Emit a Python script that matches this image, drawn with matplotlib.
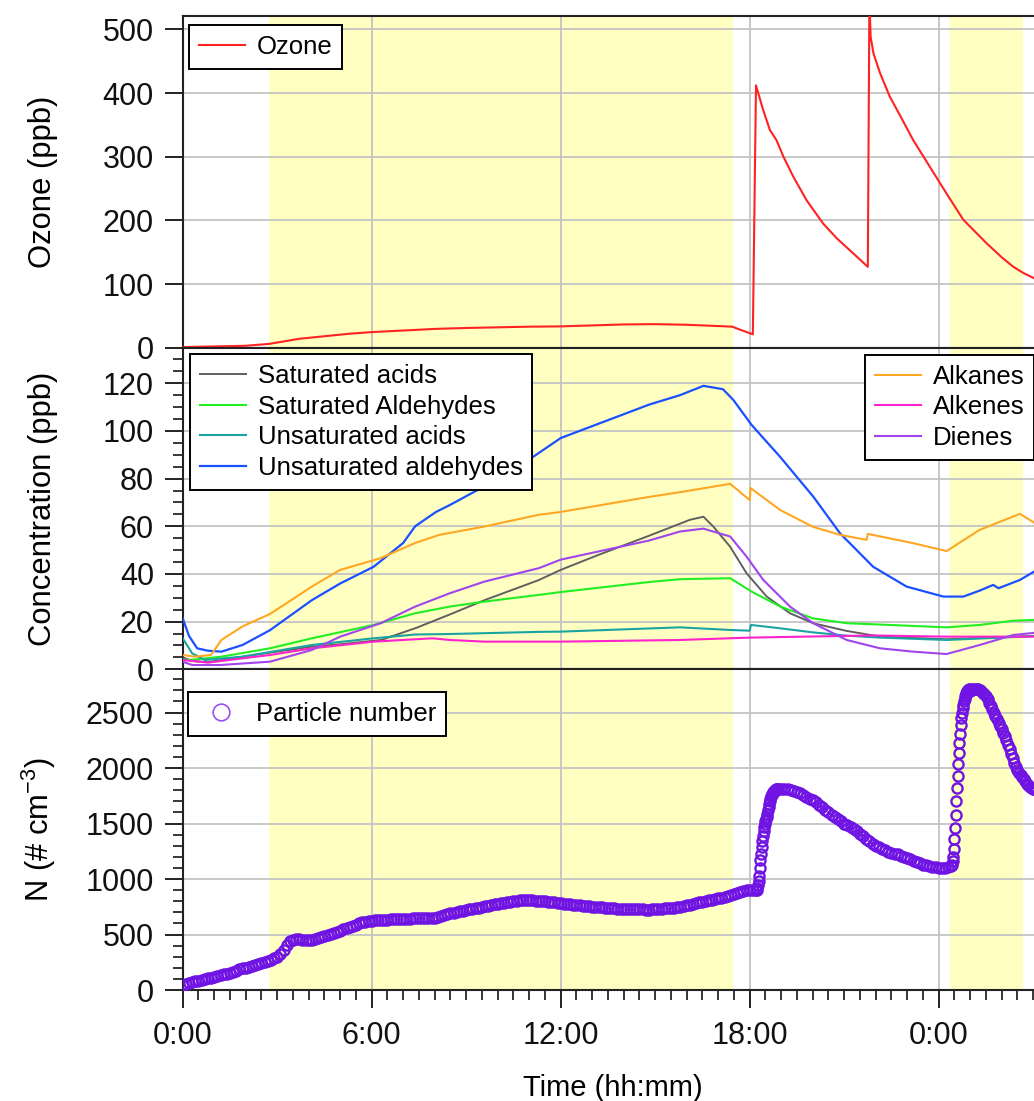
import numpy as np
import matplotlib
matplotlib.use("Agg")
import matplotlib.pyplot as plt
from matplotlib.ticker import FixedLocator, MultipleLocator
from matplotlib.lines import Line2D

plt.rcParams['font.family'] = ['Liberation Sans', 'DejaVu Sans']

# ---------------- data (hours since start) ----------------
ozone_t = [0, 1, 2, 2.75, 3.7, 5.3, 6, 7, 8, 9, 10, 11, 12, 13, 14, 15, 16, 17, 17.45, 17.6, 18.1,
           18.2, 18.43, 18.64, 18.85, 19.07, 19.38, 19.8, 20.33, 20.76, 21.29, 21.75,
           21.8, 21.84, 21.93, 22.14, 22.45, 22.77, 23.19, 23.72, 24.25, 24.78, 25.2, 25.52, 26.0, 26.37, 26.7, 27.03, 27.2]
ozone_v = [1, 2, 3, 6, 14, 22, 24.5, 27, 29.5, 31, 32, 33, 33.5, 35, 36.5, 37, 36, 34, 33, 30, 21,
           412, 373, 342, 326, 300, 269, 232, 195, 172, 148, 127,
           545, 488, 462, 431, 394, 365, 326, 284, 242, 201, 180, 164, 142, 127, 117, 109, 104]

unsat_ald_t = [0, 0.2, 0.46, 0.8, 1.23, 1.9, 2.77, 4.1, 5.0, 6.06, 7.0, 7.38, 8.04, 8.48, 9.36, 10.0, 11.0, 12.0,
               13.2, 14.8, 15.79, 16.53, 17.15, 17.48, 18.06, 18.96, 20.02, 20.87, 21.92, 22.98, 24.15, 24.78,
               25.3, 25.73, 25.9, 26.58, 27.03, 27.2]
unsat_ald_v = [21.4, 14, 8.8, 7.8, 7.4, 10.2, 16.4, 29, 36, 43, 53, 60, 66, 68.9, 75.2, 76.6, 88, 97,
               103, 111, 115, 118.9, 117.5, 113, 102.5, 89.2, 72.4, 57, 43, 34.7, 30.5, 30.5,
               33, 35.4, 34, 37.5, 41, 42]

alkanes_t = [0, 0.4, 0.9, 1.23, 1.9, 2.77, 4.1, 5.0, 6.28, 7.38, 8.15, 9.58, 11.3, 12.0, 14.8, 15.79, 17.38,
             18.0, 18.03, 18.97, 20.0, 20.87, 21.71, 21.75, 23.19, 24.25, 25.3, 26.58, 27.03, 27.2]
alkanes_v = [6, 5.3, 6, 12.3, 18, 23.2, 34.7, 41.7, 46.6, 53, 56.4, 59.9, 64.8, 66, 72.3, 74.3, 77.8,
             71, 76, 66.8, 59.8, 56.4, 54.3, 56.8, 52.9, 49.6, 58.5, 65.2, 61.5, 60.5]

sat_acid_t = [0, 0.3, 0.8, 1.5, 2.77, 4.1, 5.0, 6.3, 7.4, 8.48, 9.58, 11.3, 12.0, 13.2, 14.8, 16.1, 16.53,
              16.85, 17.38, 17.9, 18.54, 19.28, 20.02, 21.08, 22.14, 24.25, 26.37, 27.2]
sat_acid_v = [5, 3.5, 3, 4.5, 7, 9.5, 10.5, 12.3, 17.3, 23, 29, 37.4, 41.7, 48, 56, 62.7, 64,
              59.8, 51.4, 40.3, 30.5, 23.5, 19.3, 16.1, 13.7, 12.6, 13.7, 14]

sat_ald_t = [0, 0.3, 1.23, 2.77, 4.1, 6.06, 7.38, 8.48, 9.58, 11.3, 12.0, 14.8, 15.79, 17.38, 18.06, 18.97,
             20.0, 21.1, 21.9, 24.25, 25.3, 26.37, 27.2]
sat_ald_v = [4, 4, 5.3, 8.8, 13, 18.6, 23.5, 26.3, 28.4, 31.2, 32.4, 36.6, 37.8, 38.2, 32.6, 26.3,
             21.4, 19.3, 18.9, 17.6, 18.6, 20.4, 20.8]

unsat_acid_t = [0, 0.3, 0.7, 1.9, 4.1, 6.06, 7.38, 8.48, 11.3, 12.0, 15.79, 17.38, 18.0, 18.04, 18.97,
                20.0, 21.08, 22.14, 24.25, 27.2]
unsat_acid_v = [13, 6.7, 3.9, 5.3, 10.2, 13, 14.6, 14.8, 15.7, 15.8, 17.6, 16.5, 16.2, 18.6, 17.2,
                15.5, 14.1, 13.3, 12.3, 14]

alkenes_t = [0, 0.8, 1.9, 2.77, 4.1, 6.06, 7.93, 8.48, 9.58, 11.3, 12.0, 15.79, 18.0, 21.9, 24.25, 27.2]
alkenes_v = [3.9, 2.8, 4.6, 6, 8.8, 11.6, 13, 12.3, 11.6, 11.6, 11.6, 12.3, 13.3, 14.2, 13.7, 13.7]

dienes_t = [0, 0.3, 1.2, 2.77, 4.1, 5.0, 6.28, 7.38, 8.48, 9.58, 11.3, 12.0, 14.8, 15.79, 16.53, 17.38,
            17.9, 18.43, 19.28, 20.02, 21.08, 22.14, 23.19, 24.25, 25.3, 26.37, 27.2]
dienes_v = [3.2, 1.8, 1.8, 3.2, 8.1, 13.7, 19.3, 26.3, 31.9, 36.8, 42.4, 46, 54, 57.8, 59, 55.7,
            47.3, 37.5, 26.3, 19.3, 12.3, 8.8, 7.4, 6.4, 10.2, 14.4, 15.5]

# particle number: segments of different sampling density
pn_a_t = np.round(np.arange(0, 18.21, 0.1), 2)
pn_a_v = [45, 55, 62, 70, 78, 85, 92, 98, 105, 112,
          118, 126, 133, 140, 148, 156, 165, 175, 185, 195,
          202, 210, 218, 226, 234, 243, 252, 262, 272, 285,
          300, 320, 360, 410, 440, 455, 460, 458, 455, 452,
          452, 455, 460, 468, 478, 488, 495, 505, 515, 525,
          535, 548, 558, 568, 578, 590, 600, 610, 617, 622,
          625, 627, 629, 631, 633, 635, 637, 639, 640, 641,
          642, 643, 644, 645, 646, 645, 646, 646, 645, 648,
          652, 660, 668, 676, 684, 690, 696, 702, 708, 714,
          720, 726, 731, 737, 742, 748, 753, 759, 765, 771,
          776, 781, 786, 790, 795, 800, 805, 808, 810, 811,
          810, 808, 806, 804, 802, 800, 797, 793, 789, 785,
          782, 779, 776, 772, 768, 765, 762, 759, 756, 753,
          750, 748, 746, 744, 742, 740, 738, 736, 734, 732,
          731, 730, 729, 728, 727, 726, 726, 725, 725, 726,
          728, 730, 732, 735, 737, 740, 743, 746, 750, 756,
          763, 770, 777, 784, 790, 796, 802, 808, 814, 820,
          826, 832, 838, 845, 852, 862, 875, 885, 893, 898,
          900, 900, 902]
pn_b_t = np.round(np.arange(18.22, 18.91, 0.02), 2)
pn_b_v = [905, 920, 945, 980, 1030, 1100, 1170, 1230, 1290, 1340, 1390, 1430, 1470, 1500, 1520,
          1540, 1560, 1590, 1620, 1650, 1680, 1705, 1725, 1745, 1760, 1770, 1780, 1788, 1795,
          1800, 1805, 1808, 1810, 1812, 1814]
pn_c_t = np.round(np.arange(19.0, 24.41, 0.1), 2)
pn_c_v = [1815, 1815, 1812, 1805, 1795, 1785, 1772, 1758, 1740, 1725,
          1710, 1690, 1670, 1650, 1625, 1600, 1580, 1560, 1540, 1520,
          1500, 1485, 1470, 1455, 1430, 1410, 1385, 1360, 1340, 1320,
          1300, 1285, 1270, 1258, 1248, 1238, 1230, 1222, 1212, 1200,
          1190, 1178, 1165, 1150, 1140, 1130, 1122, 1115, 1108, 1104,
          1100, 1098, 1100, 1105, 1120]
pn_d_t = np.round(np.arange(24.42, 24.99, 0.02), 2)
pn_d_v = [1130, 1160, 1200, 1270, 1360, 1460, 1580, 1700, 1820, 1930, 2040, 2140, 2230, 2310, 2390,
          2450, 2500, 2540, 2570, 2600, 2625, 2645, 2660, 2675, 2690, 2700, 2705, 2710, 2713]
pn_e_t = np.round(np.arange(25.0, 27.11, 0.05), 2)
pn_e_v = [2690, 2700, 2708, 2712, 2713, 2710, 2703, 2693, 2680, 2665, 2645, 2620, 2590, 2560, 2530,
          2500, 2470, 2440, 2410, 2380, 2350, 2320, 2285, 2250, 2210, 2170, 2130, 2090, 2050, 2010,
          1980, 1955, 1935, 1915, 1900, 1880, 1860, 1845, 1832, 1822, 1815, 1810, 1805]

pn_t = np.concatenate([pn_a_t, pn_b_t, pn_c_t, pn_d_t, pn_e_t])
pn_v = np.concatenate([pn_a_v, pn_b_v, pn_c_v, pn_d_v, pn_e_v])

light_periods = [(2.75, 17.46), (24.36, 26.67)]
xtick_pos = [0, 6, 12, 18, 24]
xtick_lab = ['0:00', '6:00', '12:00', '18:00', '0:00']

# ---------------- figure ----------------
W, H = 1034, 1101
fig = plt.figure(figsize=(W / 100, H / 100), dpi=100)

left_px, right_px = 182.7, 1039.5
def ax_at(top_px, bot_px):
    return fig.add_axes([left_px / W, 1 - bot_px / H, (right_px - left_px) / W, (bot_px - top_px) / H])

ax1 = ax_at(15.7, 347.7)
ax2 = ax_at(347.7, 669.3)
ax3 = ax_at(669.3, 990.0)

TICK_FS = 22
LAB_FS = 22.3
LEG_FS = 18.5

grid_c = '#c4c4c4'
for ax in (ax1, ax2, ax3):
    ax.set_xlim(0, 27.2)
    for a, b in light_periods:
        ax.axvspan(a, b, color='#ffffc2', lw=0, zorder=0)
    ax.xaxis.set_major_locator(FixedLocator(xtick_pos))
    ax.xaxis.set_minor_locator(MultipleLocator(0.5))
    ax.grid(True, which='major', color=grid_c, lw=1.3, zorder=0.5)
    ax.set_axisbelow(True)
    for s in ax.spines.values():
        s.set_linewidth(1.5)
        s.set_color('#222222')
    ax.tick_params(axis='y', which='major', direction='out', length=13.2, width=1.3, pad=7.5,
                   labelsize=TICK_FS, colors='#111111')
    ax.tick_params(axis='y', which='minor', direction='out', length=7.2, width=1.1)
    ax.tick_params(right=False, top=False)
    ax.yaxis.set_label_coords(-0.145, 0.5)

for ax in (ax1, ax2):
    ax.tick_params(axis='x', which='both', length=0, labelbottom=False)

ax3.set_xticks(xtick_pos)
ax3.set_xticklabels(xtick_lab)
ax3.tick_params(axis='x', which='major', direction='out', length=13.2, width=1.3, pad=9,
                labelsize=TICK_FS, colors='#111111')
ax3.tick_params(axis='x', which='minor', direction='out', length=7.2, width=1.1)

leg_kw = dict(fontsize=LEG_FS, frameon=True, fancybox=False, edgecolor='black', framealpha=1,
              borderpad=0.38, labelspacing=0.26, handlelength=1.8, handletextpad=0.45, borderaxespad=0)

# panel 1: ozone
ax1.plot(ozone_t, ozone_v, color='#ff2222', lw=1.5, label='Ozone', zorder=3)
ax1.set_ylim(0, 521.4)
ax1.set_yticks([0, 100, 200, 300, 400, 500])
ax1.set_ylabel('Ozone (ppb)', fontsize=LAB_FS)
leg1 = ax1.legend(loc='upper left', bbox_to_anchor=(0.0076, 0.972), **leg_kw)
leg1.get_frame().set_linewidth(1.4)

# panel 2: concentrations
l_sa, = ax2.plot(sat_acid_t, sat_acid_v, color='#606060', lw=1.4, label='Saturated acids', zorder=3)
l_sal, = ax2.plot(sat_ald_t, sat_ald_v, color='#22ee22', lw=1.5, label='Saturated Aldehydes', zorder=3)
l_ua, = ax2.plot(unsat_acid_t, unsat_acid_v, color='#1aa3a3', lw=1.5, label='Unsaturated acids', zorder=3)
l_ual, = ax2.plot(unsat_ald_t, unsat_ald_v, color='#1a50ff', lw=1.6, label='Unsaturated aldehydes', zorder=3)
l_alk, = ax2.plot(alkanes_t, alkanes_v, color='#ffa722', lw=1.5, label='Alkanes', zorder=3)
l_ale, = ax2.plot(alkenes_t, alkenes_v, color='#ff22cc', lw=1.5, label='Alkenes', zorder=3)
l_die, = ax2.plot(dienes_t, dienes_v, color='#a044ee', lw=1.5, label='Dienes', zorder=3)
ax2.set_ylim(0, 134.9)
ax2.set_yticks([0, 20, 40, 60, 80, 100, 120])
ax2.yaxis.set_minor_locator(MultipleLocator(5))
ax2.set_ylabel('Concentration (ppb)', fontsize=LAB_FS)
leg2a = ax2.legend(handles=[l_sa, l_sal, l_ua, l_ual], loc='upper left',
                   bbox_to_anchor=(0.0085, 0.980), **leg_kw)
leg2a.get_frame().set_linewidth(1.4)
ax2.add_artist(leg2a)
leg2b = ax2.legend(handles=[l_alk, l_ale, l_die], loc='upper right',
                   bbox_to_anchor=(0.9935, 0.978), **leg_kw)
leg2b.get_frame().set_linewidth(1.4)

# panel 3: particle number
ax3.plot(pn_t, pn_v, 'o', mfc='none', mec='#7014e4', ms=7.3, mew=1.7, zorder=3)
ax3.set_ylim(0, 2890)
ax3.set_yticks([0, 500, 1000, 1500, 2000, 2500])
ax3.yaxis.set_minor_locator(MultipleLocator(100))
ax3.set_ylabel('N (# cm$^{\\mathregular{-3}}$)', fontsize=LAB_FS)
h_pn = Line2D([], [], ls='none', marker='o', mfc='none', mec='#9a50ee', ms=12, mew=1.2)
leg3 = ax3.legend(handles=[h_pn], labels=['Particle number'], loc='upper left',
                  bbox_to_anchor=(0.0062, 0.929), **leg_kw)
leg3.get_frame().set_linewidth(1.4)

fig.text(613 / W, 1 - 1096 / H, 'Time (hh:mm)', ha='center', va='baseline', fontsize=21)

fig.savefig('out.png', dpi=100)
